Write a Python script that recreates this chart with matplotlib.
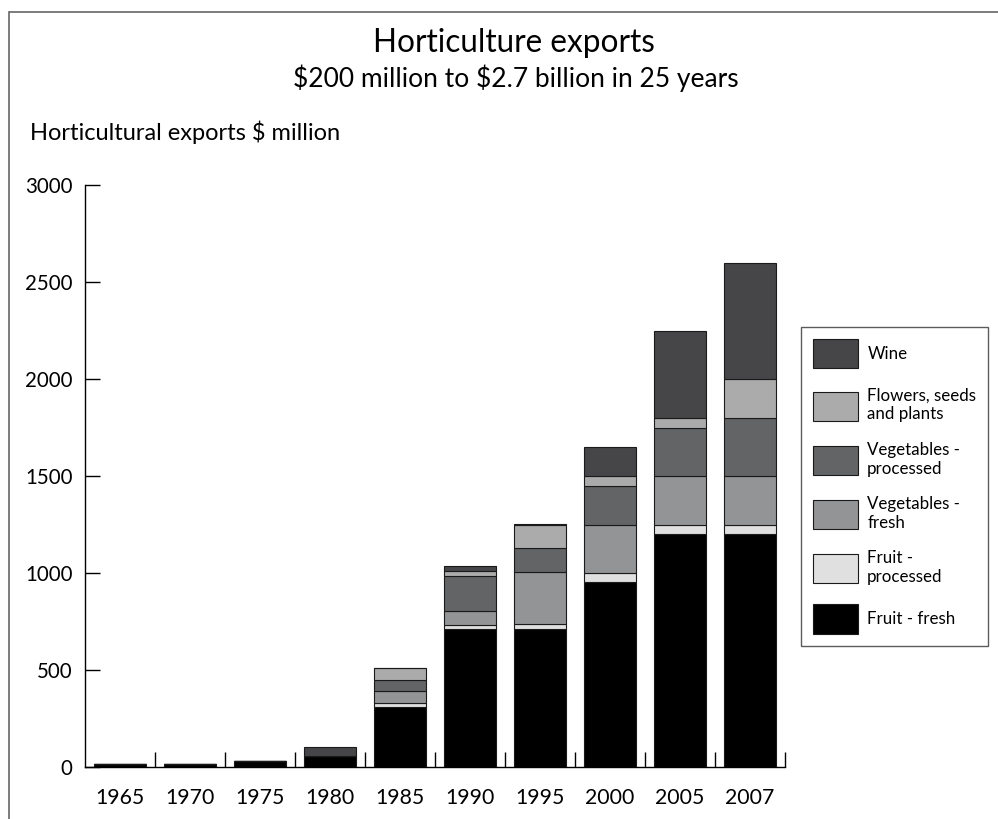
import numpy as np
import matplotlib
matplotlib.use("Agg")
import matplotlib.pyplot as plt
from matplotlib.lines import Line2D

plt.rcParams['font.family'] = ['Lato', 'DejaVu Sans']

years = ['1965', '1970', '1975', '1980', '1985', '1990', '1995', '2000', '2005', '2007']

# $ million (bottom to top)
fruit_fresh = [15, 15, 30, 55, 310, 710, 710, 955, 1200, 1200]
fruit_processed = [0, 0, 0, 0, 20, 20, 25, 45, 50, 50]
veg_fresh = [0, 0, 0, 0, 60, 75, 270, 250, 250, 250]
veg_processed = [0, 0, 0, 0, 60, 180, 125, 200, 250, 300]
flowers = [0, 0, 0, 0, 60, 25, 115, 50, 50, 200]
wine = [0, 0, 0, 50, 0, 25, 10, 150, 450, 600]

series = [
    ('Fruit - fresh', fruit_fresh, '#000000'),
    ('Fruit -\nprocessed', fruit_processed, '#e0e0e1'),
    ('Vegetables -\nfresh', veg_fresh, '#939496'),
    ('Vegetables -\nprocessed', veg_processed, '#636466'),
    ('Flowers, seeds\nand plants', flowers, '#ababab'),
    ('Wine', wine, '#464648'),
]

fig = plt.figure(figsize=(9.98, 8.19), dpi=100)
ax = fig.add_axes([0.0852, 0.0635, 0.7014, 0.7106])

x = np.arange(len(years))
bottom = np.zeros(len(years))
handles = []
for label, vals, col in series:
    vals = np.array(vals, dtype=float)
    bars = ax.bar(x, vals, 0.73, bottom=bottom, color=col,
                  edgecolor='#1a1a1a', linewidth=0.8, label=label)
    handles.append(bars)
    bottom += vals

ax.set_xlim(-0.5, 9.5)
ax.set_ylim(0, 3000)
ax.spines['top'].set_visible(False)
ax.spines['right'].set_visible(False)
for s in ['left', 'bottom']:
    ax.spines[s].set_linewidth(1.0)

ax.set_yticks(np.arange(0, 3001, 500))
ax.tick_params(axis='y', direction='in', length=11, width=1.0, pad=9, labelsize=14.8)
ax.set_xticks(x)
ax.set_xticklabels(years)
ax.tick_params(axis='x', which='major', length=0, pad=15, labelsize=15.3)
ax.set_xticks(np.arange(0.5, 10, 1), minor=True)
ax.tick_params(axis='x', which='minor', direction='in', length=11, width=1.0)

fig.text(0.515, 0.947, 'Horticulture exports', ha='center', va='center', fontsize=22.7)
fig.text(0.517, 0.905, r'\$200 million to \$2.7 billion in 25 years', ha='center', va='center', fontsize=19)
fig.text(0.03, 0.838, 'Horticultural exports $ million', ha='left', va='center', fontsize=17)

leg = ax.legend(handles[::-1], [s[0] for s in series][::-1],
                loc='upper left', bbox_to_anchor=(0.8026, 0.6007),
                bbox_transform=fig.transFigure, borderaxespad=0,
                fancybox=False, frameon=True, fontsize=12.2,
                handlelength=2.66, handleheight=2.3, labelspacing=1.15,
                handletextpad=0.55, borderpad=0.7)
leg.get_frame().set_edgecolor('#333333')
leg.get_frame().set_linewidth(1.0)

# outer frame of the graphic
fig.add_artist(Line2D([0.01, 1.0], [0.9853, 0.9853], transform=fig.transFigure,
                      color='#666666', linewidth=1.2))
fig.add_artist(Line2D([0.0095, 0.0095], [0.0, 0.9853], transform=fig.transFigure,
                      color='#666666', linewidth=1.2))

fig.savefig('out.png', dpi=100)
